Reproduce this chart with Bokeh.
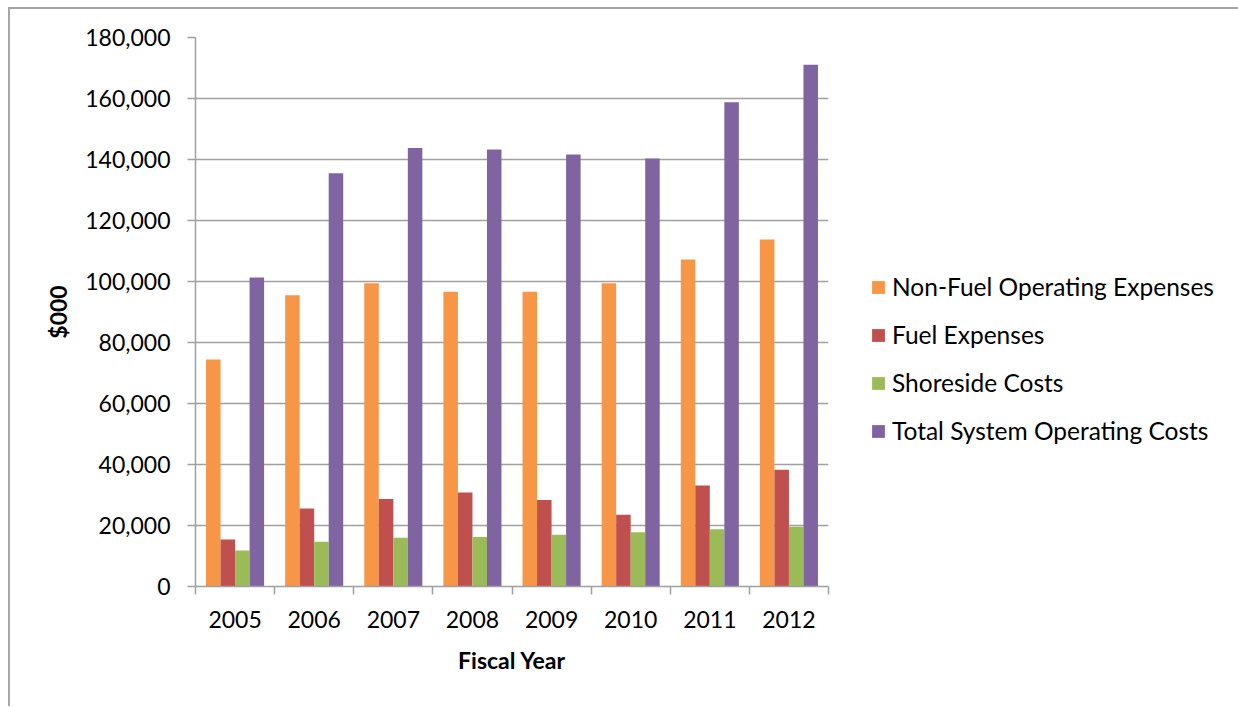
from bokeh.plotting import figure
from bokeh.models import (ColumnDataSource, FixedTicker, NumeralTickFormatter,
                          Legend, LegendItem, Range1d)
from bokeh.transform import dodge
from bokeh.embed import file_html
from bokeh.resources import INLINE

years = ["2005", "2006", "2007", "2008", "2009", "2010", "2011", "2012"]
non_fuel = [74400, 95500, 99400, 96600, 96600, 99400, 107200, 113800]
fuel = [15400, 25600, 28700, 30800, 28400, 23500, 33100, 38300]
shoreside = [11800, 14700, 16000, 16200, 17000, 17800, 18800, 19600]
total = [101300, 135500, 143800, 143300, 141600, 140300, 158800, 171100]
series_names = ["Non-Fuel Operating Expenses", "Fuel Expenses",
                "Shoreside Costs", "Total System Operating Costs"]
colors = ["#F79646", "#C0504D", "#9BBB59", "#8064A2"]
y_ticks = [0, 20000, 40000, 60000, 80000, 100000, 120000, 140000, 160000, 180000]

FONT = "Lato"
GRID = "#A0A0A0"

centers = [i + 0.5 for i in range(len(years))]
src = ColumnDataSource(dict(x=centers, non_fuel=non_fuel, fuel=fuel,
                            shoreside=shoreside, total=total))

p = figure(frame_width=633, frame_height=549, output_backend="svg",
           toolbar_location=None,
           x_range=Range1d(0, len(years)), y_range=Range1d(0, 180000),
           min_border_left=185, min_border_top=28, min_border_right=0,
           min_border_bottom=120)
p.styles = {"margin-left": "8px", "margin-top": "7px",
            "border-left": "2px solid #A6A6A6", "border-top": "2px solid #A6A6A6"}
p.outline_line_color = None
p.background_fill_color = "white"
p.border_fill_color = "white"

bw = 0.1835
offsets = [-1.5 * bw, -0.5 * bw, 0.5 * bw, 1.5 * bw]
fields = ["non_fuel", "fuel", "shoreside", "total"]
items = []
for f, off, c, name in zip(fields, offsets, colors, series_names):
    r = p.vbar(x=dodge("x", off), top=f, width=bw, source=src,
               fill_color=c, line_color=None)
    items.append(LegendItem(label=name, renderers=[r]))

legend = Legend(items=items, location=(42, 141), border_line_color=None,
                background_fill_alpha=0, padding=0, margin=0, spacing=19,
                glyph_width=16, glyph_height=16, label_standoff=6,
                label_text_font=FONT, label_text_font_size="24.5px",
                label_text_color="#000000")
p.add_layout(legend, "right")

# y axis
yax = p.yaxis[0]
yax.ticker = FixedTicker(ticks=y_ticks, minor_ticks=[])
yax.formatter = NumeralTickFormatter(format="0,0")
yax.axis_line_color = GRID
yax.axis_line_width = 1.5
yax.major_tick_line_color = GRID
yax.major_tick_line_width = 1.5
yax.major_tick_out = 8
yax.major_tick_in = 0
yax.minor_tick_line_color = None
yax.major_label_standoff = 17
yax.major_label_text_font = FONT
yax.major_label_text_font_size = "23px"
yax.major_label_text_color = "#000000"
yax.axis_label = "$000"
yax.axis_label_text_font = FONT
yax.axis_label_text_font_style = "bold"
yax.axis_label_text_font_size = "23px"
yax.axis_label_text_color = "#000000"
yax.axis_label_standoff = 10

# x axis
xax = p.xaxis[0]
xax.ticker = FixedTicker(ticks=centers, minor_ticks=list(range(len(years) + 1)))
xax.major_label_overrides = {c: y for c, y in zip(centers, years)}
xax.axis_line_color = GRID
xax.axis_line_width = 1.5
xax.major_tick_line_color = None
xax.major_tick_out = 8
xax.major_tick_in = 0
xax.minor_tick_line_color = GRID
xax.minor_tick_line_width = 1.5
xax.minor_tick_out = 8
xax.minor_tick_in = 0
xax.major_label_standoff = 16
xax.major_label_text_font = FONT
xax.major_label_text_font_size = "23px"
xax.major_label_text_color = "#000000"
xax.axis_label = "Fiscal Year"
xax.axis_label_text_font = FONT
xax.axis_label_text_font_style = "bold"
xax.axis_label_text_font_size = "23px"
xax.axis_label_text_color = "#000000"
xax.axis_label_standoff = 15

p.xgrid.grid_line_color = None
p.ygrid.grid_line_color = GRID
p.ygrid.grid_line_width = 1.5
p.ygrid.ticker = FixedTicker(ticks=y_ticks)

open("out.html", "w").write(file_html(p, INLINE))
